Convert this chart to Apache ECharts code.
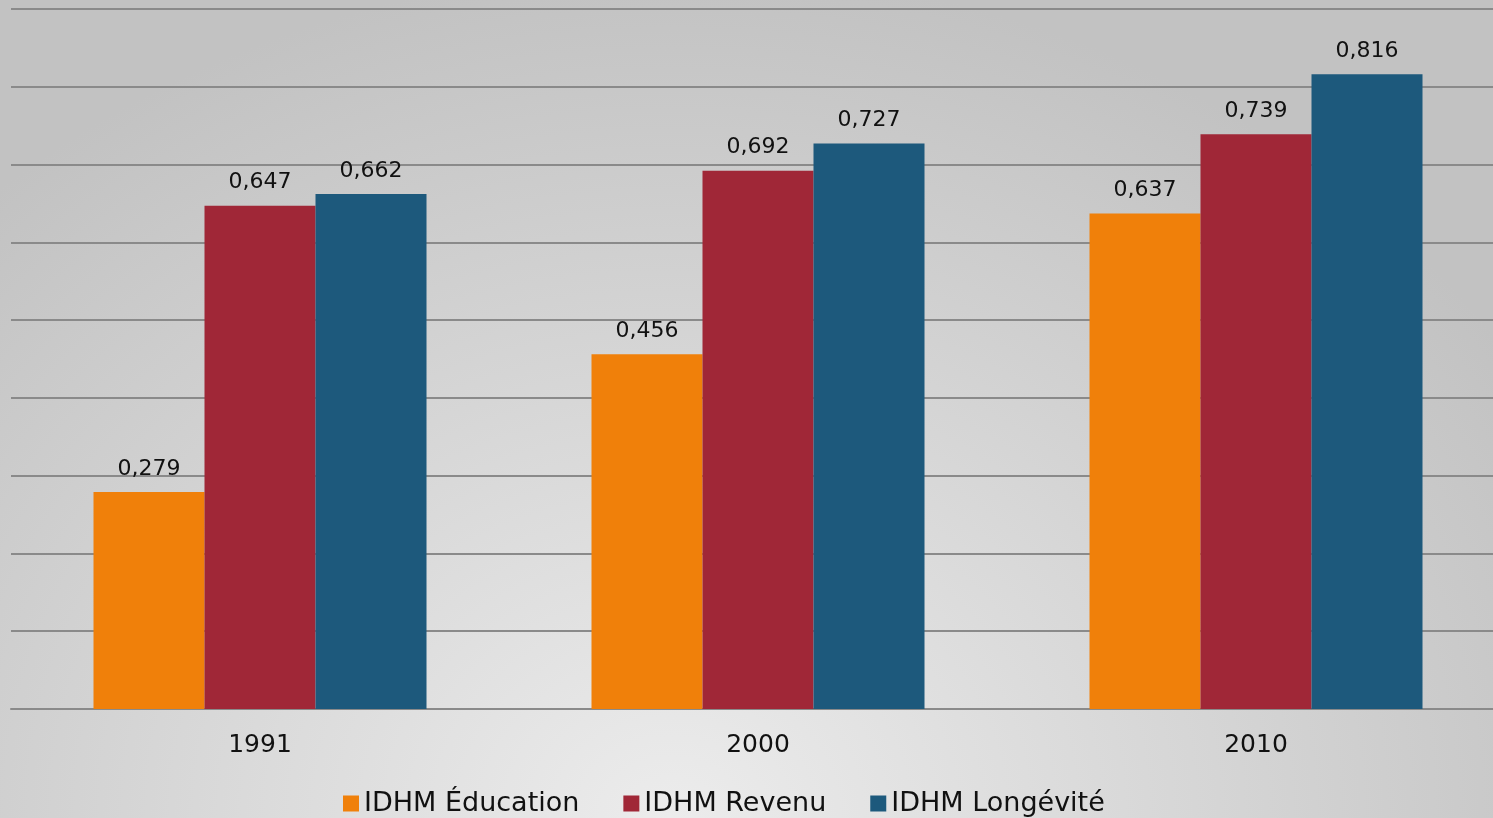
<!DOCTYPE html>
<html>
<head>
<meta charset="utf-8">
<script src="https://cdn.jsdelivr.net/npm/echarts@6/dist/echarts.min.js"></script>
<style>
html,body{margin:0;padding:0;width:1493px;height:818px;overflow:hidden;}
body{background:radial-gradient(ellipse 1000px 850px at 45% 100%, #ececec 0%, #c2c2c2 100%);}
#c{width:1505px;height:818px;}
</style>
</head>
<body>
<div id="c"></div>
<script>
const categories = ['1991', '2000', '2010'];
const seriesNames = ['IDHM Éducation', 'IDHM Revenu', 'IDHM Longévité'];
const education = [0.279, 0.456, 0.637];
const revenu = [0.647, 0.692, 0.739];
const longevite = [0.662, 0.727, 0.816];
const colors = ['#f0800a', '#a02737', '#1d597c'];

const chart = echarts.init(document.getElementById('c'));
const fontFam = '"DejaVu Sans", Verdana, sans-serif';
function mk(name, data, color) {
  return {
    name: name, type: 'bar', data: data, barWidth: 111, barGap: '0%',
    itemStyle: { color: color },
    label: {
      show: true, position: 'top', distance: 12, color: '#111',
      fontSize: 22, fontFamily: fontFam,
      formatter: p => p.value.toFixed(3).replace('.', ',')
    }
  };
}
chart.setOption({
  backgroundColor: 'transparent',
  animation: false,
  grid: { left: 11, right: 0, top: 9, bottom: 109 },
  legend: {
    data: seriesNames, left: 343, top: 790, padding: 0,
    itemWidth: 16, itemHeight: 16, itemGap: 44, icon: 'rect',
    textStyle: { fontSize: 27, fontFamily: fontFam, color: '#111' }
  },
  xAxis: {
    type: 'category', data: categories,
    axisLine: { lineStyle: { color: '#8a8a8a', width: 2 } },
    axisTick: { show: false },
    axisLabel: { fontSize: 25, fontFamily: fontFam, color: '#111', margin: 24 }
  },
  yAxis: {
    type: 'value', min: 0, max: 0.9, interval: 0.1,
    axisLabel: { show: false }, axisLine: { show: false }, axisTick: { show: false },
    splitLine: { lineStyle: { color: '#8a8a8a', width: 2 } }
  },
  series: [mk(seriesNames[0], education, colors[0]), mk(seriesNames[1], revenu, colors[1]), mk(seriesNames[2], longevite, colors[2])]
});
</script>
</body>
</html>
